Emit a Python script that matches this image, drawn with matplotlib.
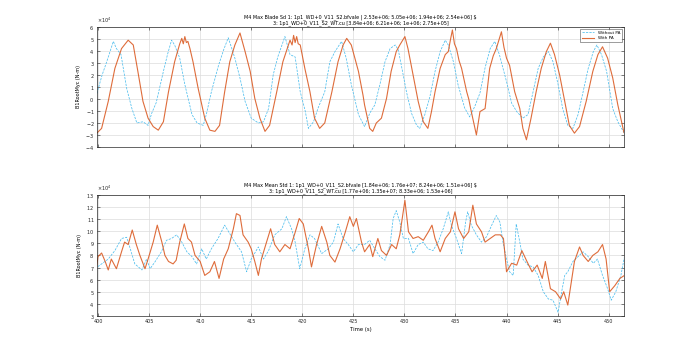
import numpy as np
import matplotlib
matplotlib.use("Agg")
from matplotlib import pyplot as plt
from matplotlib.ticker import ScalarFormatter

# top panel: blade root moment (x1e4)
t_top_wo = [399.7, 400.4, 400.85, 401.5, 401.8, 402.25, 402.8, 403.3, 403.8, 404.4, 404.9, 405.25,
            405.7, 406.4, 406.8, 407.2, 407.5, 408.0, 408.5, 409.2, 409.7, 410.3, 410.6, 411.1,
            411.8, 412.3, 412.75, 413.1, 413.4, 413.9, 414.4, 415.0, 415.7, 416.2, 416.7, 417.15,
            417.6, 418.3, 418.8, 419.3, 419.8, 420.3, 420.6, 421.1, 421.55, 422.2, 422.7, 423.2,
            423.85, 424.3, 424.8, 425.5, 426.1, 426.6, 427.1, 427.6, 428.1, 428.6, 429.1, 429.4,
            429.7, 430.2, 430.7, 431.2, 431.5, 432.0, 432.5, 433.0, 433.5, 434.0, 434.3, 434.8,
            435.25, 435.9, 436.4, 436.9, 437.4, 437.9, 438.4, 438.85, 439.3, 440.0, 440.5, 441.0,
            441.6, 442.1, 442.6, 443.1, 443.6, 444.1, 444.55, 445.05, 445.5, 446.0, 446.5, 447.0,
            447.5, 448.0, 448.5, 448.85, 449.3, 449.8, 450.4, 450.9, 451.5]
v_top_wo = [-0.1, 2.0, 3.1, 4.8, 4.2, 3.7, 0.9, -0.75, -2.0, -1.9, -2.2, -1.2,
            -0.3, 2.3, 3.7, 4.9, 4.5, 3.4, 1.2, -1.3, -2.0, -2.2, -1.3, 0.6,
            2.8, 4.1, 5.1, 4.2, 3.4, 1.75, -0.2, -1.6, -2.0, -1.9, -0.8, 2.0,
            3.5, 5.2, 3.7, 3.5, 0.6, -1.05, -2.45, -1.9, -0.75, 0.6, 3.1, 3.95,
            4.8, 3.4, 1.2, -1.3, -2.3, -1.2, -0.5, 1.2, 3.1, 4.2, 4.5, 4.1,
            2.8, 0.6, -1.2, -2.2, -2.45, -1.3, 0.2, 2.3, 3.95, 4.9, 4.5, 3.1,
            1.2, -0.75, -1.5, -0.6, 0.5, 2.6, 4.2, 4.8, 3.7, 1.45, -0.35, -1.05,
            -1.6, -1.3, 0.6, 2.55, 3.5, 3.95, 3.1, 1.2, -0.8, -2.2, -2.45, -1.3,
            0.6, 2.55, 3.95, 4.5, 3.7, 2.3, -0.8, -1.9, -2.8]

t_top_w = [399.7, 400.35, 401.0, 401.65, 402.3, 402.95, 403.45, 403.9, 404.4, 404.9, 405.4, 405.9,
           406.4, 406.9, 407.5, 408.0, 408.2, 408.35, 408.5, 408.65, 408.8, 409.0, 409.3, 409.8,
           410.45, 410.95, 411.45, 411.9, 412.4, 412.9, 413.4, 413.9, 414.4, 414.9, 415.35, 415.85,
           416.35, 416.8, 417.5, 418.1, 418.8, 419.0, 419.15, 419.3, 419.45, 419.6, 419.8, 420.25,
           420.75, 421.2, 421.7, 422.2, 422.9, 423.5, 424.0, 424.35, 424.8, 425.5, 425.95, 426.1,
           426.6, 426.9, 427.25, 427.75, 428.25, 428.7, 429.2, 429.55, 430.05, 430.35, 430.85, 431.35,
           431.85, 432.3, 432.65, 433.0, 433.5, 434.0, 434.3, 434.5, 434.7, 434.9, 435.1, 435.35,
           435.6, 436.1, 436.3, 436.55, 437.05, 437.4, 437.9, 438.35, 438.7, 439.0, 439.25, 439.5,
           439.75, 440.0, 440.3, 440.8, 441.3, 441.6, 441.95, 442.4, 442.9, 443.4, 443.9, 444.3,
           444.7, 445.2, 445.7, 446.15, 446.65, 447.15, 447.8, 448.45, 448.95, 449.4, 449.9, 450.4,
           450.9, 451.5]
v_top_w = [-3.0, -2.45, -0.2, 2.55, 4.2, 4.9, 4.5, 2.3, -0.2, -1.6, -2.3, -2.6,
           -1.9, 0.6, 3.1, 4.6, 5.05, 4.6, 5.2, 4.7, 4.8, 4.2, 3.1, 0.9,
           -1.6, -2.6, -2.7, -2.2, 0.6, 3.1, 4.5, 5.5, 3.95, 2.3, 0.05, -1.6,
           -2.7, -2.2, 0.6, 3.1, 4.9, 4.5, 5.3, 4.7, 5.2, 4.6, 4.5, 2.55,
           0.6, -1.6, -2.45, -2.0, 0.6, 3.1, 4.5, 5.05, 4.5, 2.3, 0.3, -0.5,
           -2.45, -2.7, -2.0, -1.6, 0.05, 2.3, 3.95, 4.5, 5.2, 4.2, 2.0, -0.2,
           -1.9, -2.45, -1.05, 0.6, 2.55, 3.7, 3.95, 4.9, 5.75, 4.6, 4.2, 3.2,
           2.55, 0.6, 0.0, -1.05, -3.0, -1.05, -0.8, 2.55, 3.6, 4.2, 4.9, 5.6,
           4.3, 3.4, 2.8, 0.6, -0.8, -2.45, -3.4, -1.6, 0.6, 2.55, 3.95, 4.65,
           3.7, 2.0, -0.2, -2.2, -2.85, -2.3, -0.2, 2.3, 3.7, 4.35, 3.4, 1.75,
           -0.5, -2.8]

# bottom panel (x1e4)
t_bot_wo = [399.7, 400.35, 401.0, 401.65, 402.3, 402.8, 403.1, 403.6, 404.3, 404.75, 405.1, 405.6,
            406.2, 406.7, 407.2, 407.7, 408.2, 408.7, 409.2, 409.65, 410.15, 410.6, 411.1, 411.75,
            412.4, 412.9, 413.4, 414.05, 414.55, 415.0, 415.7, 416.2, 416.7, 417.3, 418.0, 418.45,
            418.95, 419.3, 419.75, 420.25, 420.75, 421.2, 421.9, 422.55, 423.05, 423.5, 424.0, 424.5,
            425.0, 425.5, 426.1, 426.6, 427.1, 427.6, 428.1, 428.6, 428.9, 429.2, 429.55, 429.9,
            430.4, 430.85, 431.35, 431.85, 432.3, 432.8, 433.3, 433.8, 434.3, 434.6, 435.1, 435.6,
            436.0, 436.2, 436.55, 437.05, 437.55, 438.05, 438.55, 439.0, 439.35, 439.65, 440.0, 440.3,
            440.65, 440.95, 441.3, 441.6, 442.1, 442.6, 443.1, 443.6, 444.1, 444.55, 445.05, 445.4,
            445.7, 446.0, 446.5, 447.0, 447.5, 448.0, 448.5, 448.9, 449.4, 449.9, 450.25, 450.7,
            451.2, 451.55]
v_bot_wo = [6.9, 7.3, 7.7, 8.4, 9.4, 9.5, 8.7, 7.3, 6.8, 7.7, 6.9, 7.5,
            8.3, 9.25, 9.4, 9.7, 9.1, 8.3, 7.9, 7.3, 8.55, 7.7, 8.55, 9.4,
            10.5, 9.8, 9.1, 8.3, 6.65, 7.7, 8.7, 7.7, 8.4, 9.7, 10.2, 11.2,
            10.2, 9.1, 6.9, 8.55, 9.7, 9.4, 8.15, 8.55, 9.1, 10.6, 9.4, 8.9,
            8.3, 8.9, 8.9, 9.25, 8.55, 7.9, 7.6, 8.9, 11.05, 11.7, 10.75, 9.4,
            9.4, 8.15, 8.9, 9.1, 8.55, 8.4, 9.1, 10.2, 11.6, 10.5, 9.4, 8.15,
            10.8, 11.6, 10.5, 9.7, 9.1, 9.55, 10.5, 11.3, 10.75, 9.1, 7.7, 6.65,
            6.35, 10.6, 9.1, 7.7, 7.2, 7.05, 6.35, 5.0, 4.4, 4.3, 3.3, 5.0,
            6.35, 6.65, 7.5, 7.9, 8.3, 7.9, 7.35, 7.7, 6.35, 5.25, 4.3, 5.0,
            6.35, 7.9]

t_bot_w = [399.7, 400.0, 400.35, 400.7, 401.0, 401.3, 401.8, 402.3, 402.6, 402.95, 403.35, 403.75,
           404.1, 404.6, 404.9, 405.4, 405.8, 406.25, 406.55, 406.9, 407.35, 407.65, 408.0, 408.45,
           408.8, 409.15, 409.5, 410.0, 410.45, 410.95, 411.4, 411.85, 412.3, 412.75, 413.25, 413.55,
           413.9, 414.2, 414.7, 415.0, 415.35, 415.7, 416.0, 416.5, 416.9, 417.3, 417.8, 418.3,
           418.8, 419.3, 419.7, 420.1, 420.6, 420.9, 421.4, 421.9, 422.4, 422.7, 423.2, 423.7,
           424.2, 424.65, 425.0, 425.3, 425.8, 426.1, 426.6, 426.9, 427.4, 427.75, 428.25, 428.75,
           429.2, 429.55, 430.05, 430.4, 430.85, 431.35, 431.85, 432.35, 432.7, 433.0, 433.5, 434.0,
           434.5, 434.95, 435.3, 435.8, 436.3, 436.7, 437.05, 437.55, 437.9, 438.4, 438.9, 439.4,
           439.7, 440.0, 440.5, 441.0, 441.5, 442.0, 442.5, 443.0, 443.5, 443.8, 444.3, 444.8,
           445.3, 445.6, 446.0, 446.65, 447.15, 447.5, 448.0, 448.45, 448.95, 449.4, 449.75, 450.1,
           450.6, 451.1, 451.55]
v_bot_w = [6.1, 7.9, 8.2, 7.5, 6.8, 7.7, 6.9, 8.3, 9.1, 8.9, 10.1, 8.9,
           8.0, 6.9, 7.7, 9.1, 10.5, 9.1, 8.0, 7.5, 7.3, 7.6, 9.1, 10.6,
           9.4, 9.1, 8.0, 7.5, 6.35, 6.65, 7.5, 6.1, 7.7, 8.55, 10.2, 11.45,
           11.3, 9.7, 9.1, 8.55, 7.5, 6.35, 7.7, 9.1, 10.2, 8.9, 8.3, 8.9,
           8.55, 9.9, 11.05, 10.6, 8.55, 7.05, 8.9, 10.4, 9.1, 8.0, 7.45, 8.55,
           9.9, 11.2, 10.4, 11.05, 9.1, 8.3, 8.9, 7.9, 9.4, 8.4, 8.0, 8.9,
           8.55, 9.7, 12.55, 9.95, 9.4, 9.55, 9.25, 9.95, 10.5, 9.4, 8.3, 9.4,
           9.95, 11.6, 10.2, 9.4, 9.95, 12.15, 10.6, 9.95, 9.1, 9.4, 9.7, 9.7,
           9.4, 6.65, 7.35, 7.2, 8.4, 7.5, 6.65, 7.2, 6.1, 7.5, 5.25, 5.0,
           4.4, 5.0, 3.9, 7.5, 8.7, 8.0, 7.5, 8.0, 8.3, 8.9, 7.7, 5.0,
           5.5, 6.1, 6.35]

xticks = np.arange(400, 451, 5)
blue = '#4DBEEE'
orange = '#D95319'

title_top = ("M4 Max Blade Sd 1: 1p1_WD+0_V11_S2.bfvale | 2.53e+06; 5.05e+06; 1.94e+06; 2.54e+06] $\n"
             "3: 1p1_WD+0_V11_S2_WT.cu [3.84e+06; 6.21e+06; 1e+06; 2.75e+05]")
title_bot = ("M4 Max Mean Std 1: 1p1_WD+0_V11_S2.bfvale [1.84e+06; 1.76e+07; 8.24e+06; 1.51e+06] $\n"
             "3: 1p1_WD+0_V11_S2_WT.cu [1.77e+06; 1.35e+07; 8.33e+06; 1.53e+06]")

plt.rcParams['font.family'] = 'DejaVu Sans'
fig = plt.figure(figsize=(6.9, 3.55), dpi=100)
ax1 = fig.add_axes([0.1406, 0.586, 0.7637, 0.338])
ax2 = fig.add_axes([0.1406, 0.110, 0.7637, 0.341])

panels = [(ax1, t_top_wo, v_top_wo, t_top_w, v_top_w, (-4, 6), title_top),
          (ax2, t_bot_wo, v_bot_wo, t_bot_w, v_bot_w, (3, 13), title_bot)]
for ax, t1, v1, t2, v2, ylim, title in panels:
    ax.plot(t1, np.array(v1) * 1e4, color=blue, lw=0.55, ls=(0, (3, 1.5)), label='Without PA')
    ax.plot(t2, np.array(v2) * 1e4, color=orange, lw=0.8, alpha=0.85, label='With PA')
    ax.set_xlim(399.9, 451.5)
    ax.set_ylim(ylim[0] * 1e4, ylim[1] * 1e4)
    ax.set_xticks(xticks)
    ax.set_yticks(np.arange(ylim[0], ylim[1] + 1) * 1e4)
    fmt = ScalarFormatter(useMathText=True)
    fmt.set_powerlimits((4, 4))
    ax.yaxis.set_major_formatter(fmt)
    ax.yaxis.get_offset_text().set_fontsize(3.5)
    ax.grid(True, color='#dcdcdc', lw=0.5)
    ax.tick_params(direction='in', length=2, width=0.4, labelsize=3.5, colors='#262626',
                   top=True, right=True, pad=2)
    for s in ax.spines.values():
        s.set_linewidth(0.5)
        s.set_color('#262626')
    ax.set_ylabel('B1RootMyc (N-m)', fontsize=3.5, labelpad=3)
    ax.set_title(title, fontsize=3.5, pad=2, linespacing=1.1)

ax1.tick_params(labelbottom=False)
ax2.set_xlabel('Time (s)', fontsize=3.8, labelpad=2)
ax1.legend(loc='upper right', fontsize=3, frameon=True, fancybox=False, edgecolor='#262626',
           handlelength=3, borderpad=0.4, labelspacing=0.3).get_frame().set_linewidth(0.4)

fig.savefig('out.png', dpi=100)
